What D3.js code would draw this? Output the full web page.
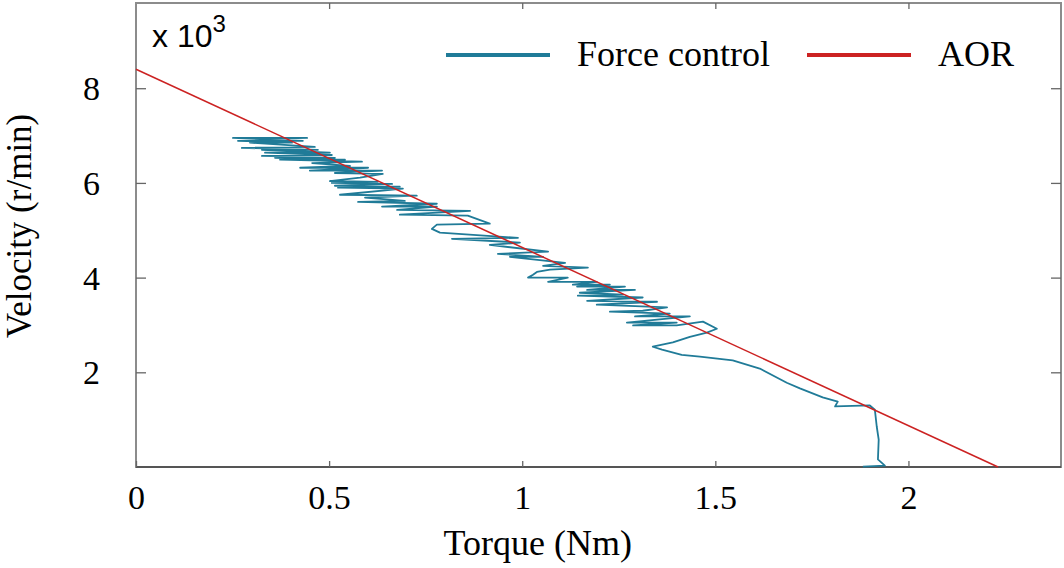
<!DOCTYPE html>
<html>
<head>
<meta charset="utf-8">
<script src="https://cdn.jsdelivr.net/npm/d3@7"></script>
<style>
  body { margin: 0; background: #fff; }
  .chart text { font-family: "Liberation Serif", "Times New Roman", serif; fill: #000; }
  .axis .tick line { stroke: #666; stroke-width: 1.3; }
  .axis path.domain { display: none; }
</style>
</head>
<body>
<div class="chart"></div>
<script>
// === === DATA === ===

// Force control trajectory (torque in Nm, velocity in 10^3 r/min)
const forceTorque = [
  1.882, 1.939, 1.921, 1.923, 1.918, 1.913, 1.900, 1.810, 1.817, 1.778,
  1.719, 1.685, 1.615, 1.545, 1.460, 1.413, 1.362, 1.338, 1.390, 1.434,
  1.478, 1.504, 1.468, 1.400, 1.287, 1.400, 1.271, 1.434, 1.292, 1.382,
  1.227, 1.312, 1.375, 1.193, 1.349, 1.168, 1.312, 1.144, 1.261, 1.149,
  1.292, 1.168, 1.266, 1.142, 1.227, 1.131, 1.193, 1.067, 1.118, 1.015,
  1.028, 1.038, 1.072, 1.170, 1.054, 1.111, 0.968, 1.054, 0.937, 1.067,
  0.916, 0.994, 0.818, 0.989, 0.787, 0.766, 0.779, 0.916, 0.859, 0.683,
  0.865, 0.676, 0.779, 0.637, 0.779, 0.575, 0.696, 0.593, 0.727, 0.528,
  0.691, 0.523, 0.683, 0.515, 0.663, 0.507, 0.626, 0.502, 0.580, 0.639,
  0.515, 0.637, 0.450, 0.601, 0.425, 0.554, 0.456, 0.585, 0.373, 0.541,
  0.360, 0.515, 0.326, 0.507, 0.334, 0.502, 0.326, 0.471, 0.274, 0.463,
  0.295, 0.404, 0.264, 0.432, 0.251, 0.443, 0.347
];
const forceVelocity = [
  0.01, 0.03, 0.16, 0.58, 0.85, 1.21, 1.30, 1.28, 1.38, 1.47,
  1.66, 1.78, 2.08, 2.25, 2.33, 2.37, 2.48, 2.54, 2.63, 2.75,
  2.84, 2.92, 3.07, 2.99, 2.99, 3.05, 3.05, 3.18, 3.18, 3.24,
  3.28, 3.30, 3.37, 3.43, 3.49, 3.51, 3.58, 3.62, 3.64, 3.68,
  3.74, 3.74, 3.81, 3.81, 3.85, 3.85, 3.91, 3.91, 4.00, 4.00,
  4.06, 4.12, 4.17, 4.21, 4.25, 4.31, 4.44, 4.44, 4.50, 4.55,
  4.69, 4.74, 4.82, 4.84, 4.95, 5.03, 5.12, 5.14, 5.31, 5.33,
  5.41, 5.43, 5.50, 5.50, 5.56, 5.60, 5.62, 5.69, 5.73, 5.75,
  5.88, 5.90, 5.92, 5.94, 5.98, 6.00, 6.02, 6.04, 6.11, 6.19,
  6.21, 6.26, 6.26, 6.32, 6.32, 6.36, 6.42, 6.45, 6.49, 6.49,
  6.53, 6.53, 6.57, 6.59, 6.64, 6.64, 6.70, 6.70, 6.74, 6.76,
  6.85, 6.85, 6.89, 6.89, 6.95, 6.95, 6.93
];

// AOR straight line
const aorTorque = [0, 2.232];
const aorVelocity = [8.4, 0];

// tick values
const xTicks = [0, 0.5, 1, 1.5, 2];
const yTicks = [2, 4, 6, 8];

const seriesNames = ["Force control", "AOR"];
const seriesColors = ["#207b98", "#cc2222"];

// === Margin Convention ===
const margin = {top: 3, right: 3, bottom: 101, left: 136};
const width = 1064 - margin.left - margin.right,
      height = 568 - margin.top - margin.bottom;

// === SVG ===
const svg = d3.select(".chart").append("svg")
    .attr("width", width + margin.left + margin.right)
    .attr("height", height + margin.top + margin.bottom)
    .append("g")
    .attr("transform", "translate(" + margin.left + "," + margin.top + ")");

// === Scales ===
const xScale = d3.scaleLinear()
    .domain([0, 2.395])
    .range([0, width]);

const yScale = d3.scaleLinear()
    .domain([0, 9.8])
    .range([height, 0]);

// === Frame ===
svg.append("rect")
    .attr("width", width)
    .attr("height", height)
    .attr("fill", "none")
    .attr("stroke", "#8c8c8c")
    .attr("stroke-width", 2);

svg.append("line")
    .attr("x1", 0).attr("x2", width)
    .attr("y1", height).attr("y2", height)
    .attr("stroke", "#555")
    .attr("stroke-width", 2);

// === Axes (ticks point inward) ===
const xAxis = d3.axisBottom(xScale)
    .tickValues(xTicks)
    .tickFormat(d3.format("~g"))
    .tickSizeInner(-6)
    .tickSizeOuter(0)
    .tickPadding(18);

const yAxis = d3.axisLeft(yScale)
    .tickValues(yTicks)
    .tickSizeInner(-10)
    .tickSizeOuter(0)
    .tickPadding(36);

const xAxisSVG = svg.append("g")
    .attr("class", "axis x-axis")
    .attr("transform", `translate(0, ${height})`)
    .call(xAxis);

const yAxisSVG = svg.append("g")
    .attr("class", "axis y-axis")
    .call(yAxis);

// mirrored ticks on top and right
svg.append("g")
    .attr("class", "axis")
    .call(d3.axisTop(xScale).tickValues(xTicks.slice(1)).tickSizeInner(-6).tickSizeOuter(0).tickFormat(""));

svg.append("g")
    .attr("class", "axis")
    .attr("transform", `translate(${width}, 0)`)
    .call(d3.axisRight(yScale).tickValues(yTicks).tickSizeInner(-10).tickSizeOuter(0).tickFormat(""));

svg.selectAll(".x-axis text, .y-axis text")
    .attr("font-size", 34)
    .attr("font-family", "Liberation Serif");

yAxisSVG.selectAll("text").attr("dy", "0.34em");

// === Axis Titles ===
svg.append("text")
    .attr("x", xScale(1.04))
    .attr("y", height + 88)
    .attr("text-anchor", "middle")
    .attr("font-size", 36)
    .text("Torque (Nm)");

svg.append("text")
    .attr("transform", "rotate(-90)")
    .attr("x", -223)
    .attr("y", 31 - margin.left)
    .attr("text-anchor", "middle")
    .attr("font-size", 35)
    .text("Velocity (r/min)");

// === Exponent label ===
const expo = svg.append("text")
    .attr("x", 152 - margin.left)
    .attr("y", 47 - margin.top)
    .style("font-family", "'Liberation Sans', Arial, sans-serif")
    .attr("font-size", 32);
expo.append("tspan").text("x 10");
expo.append("tspan").attr("font-size", 24).attr("dy", -15).text("3");

// === Lines ===
const forceData = forceTorque.map((t, i) => ({t: t, v: forceVelocity[i]}));
const aorData = aorTorque.map((t, i) => ({t: t, v: aorVelocity[i]}));

const line = d3.line()
    .x(d => xScale(d.t))
    .y(d => yScale(d.v));

svg.append("path")
    .datum(forceData)
    .attr("fill", "none")
    .attr("stroke", seriesColors[0])
    .attr("stroke-width", 1.8)
    .attr("stroke-linejoin", "round")
    .attr("d", line);

svg.append("path")
    .datum(aorData)
    .attr("fill", "none")
    .attr("stroke", seriesColors[1])
    .attr("stroke-width", 1.5)
    .attr("d", line);

// === Legend ===
const legendX = [446 - margin.left, 807 - margin.left];
const legend = svg.selectAll(".legend")
    .data(seriesNames)
    .enter().append("g")
    .attr("class", "legend")
    .attr("transform", (d, i) => `translate(${legendX[i]}, ${55 - margin.top})`);

legend.append("line")
    .attr("x1", 0).attr("x2", 104)
    .attr("stroke", (d, i) => seriesColors[i])
    .attr("stroke-width", 4);

legend.append("text")
    .attr("x", 131)
    .attr("y", 11)
    .attr("font-size", 36)
    .text(d => d);
</script>
</body>
</html>
